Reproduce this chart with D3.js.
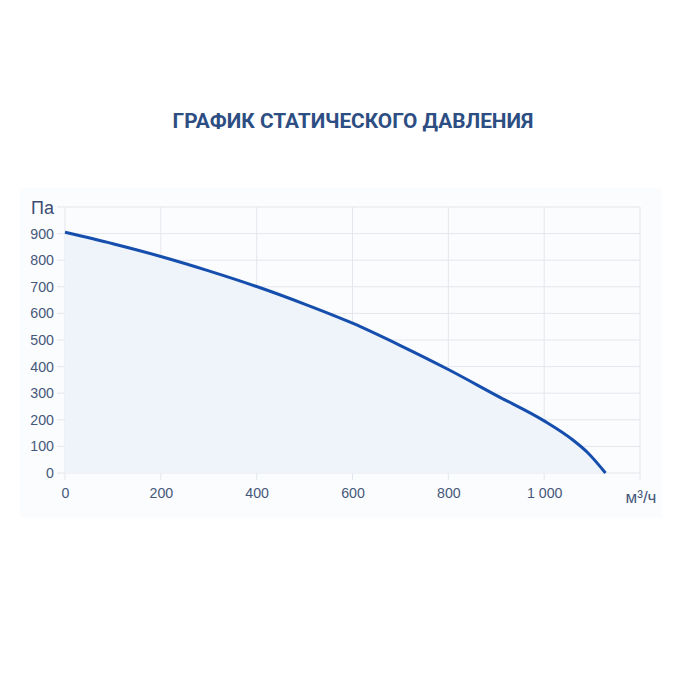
<!DOCTYPE html>
<html><head><meta charset="utf-8">
<script src="https://cdn.jsdelivr.net/npm/d3@7"></script>
<style>body{margin:0;background:#fff;}svg{display:block;}</style>
</head><body>
<svg id="c" width="700" height="700"></svg>
<script>
const title = "ГРАФИК СТАТИЧЕСКОГО ДАВЛЕНИЯ";
const yUnit = "Па";
const xUnit = "м³/ч";
const flow = [0, 100, 200, 300, 400, 500, 600, 700, 800, 900, 1000, 1060, 1090, 1128];
const pressure = [905, 862, 814, 760, 701, 635, 563, 479, 389, 292, 196, 124, 78, 0];
const xTicks = [0, 200, 400, 600, 800, 1000];
const yTicks = [0, 100, 200, 300, 400, 500, 600, 700, 800, 900];

const svg = d3.select("#c");
const m = {l: 65, r: 60, t: 207, b: 227};
const W = 700, H = 700;
const x = d3.scaleLinear().domain([0, 1200]).range([m.l, W - m.r]);
const y = d3.scaleLinear().domain([0, 1000]).range([H - m.b, m.t]);

svg.append("rect").attr("x", 20).attr("y", 188).attr("width", 642).attr("height", 330).attr("fill", "#fbfcfe");

svg.append("text").attr("x", 353).attr("y", 128).attr("text-anchor", "middle")
  .attr("font-family", "Roboto, 'Open Sans', sans-serif").attr("font-weight", 700)
  .attr("font-size", 20.8).attr("fill", "#2d4e82").text(title);

const grid = svg.append("g");
grid.selectAll("line.h").data(d3.range(0, 1001, 100)).join("line")
  .attr("x1", m.l - 8).attr("x2", x(1200)).attr("y1", d => y(d)).attr("y2", d => y(d))
  .attr("stroke", "#e3e6ec").attr("stroke-width", 1);
grid.selectAll("line.v").data(d3.range(0, 1201, 200)).join("line")
  .attr("y1", y(1000)).attr("y2", y(0) + 7).attr("x1", d => x(d)).attr("x2", d => x(d))
  .attr("stroke", "#e3e6ec").attr("stroke-width", 1);

const data = flow.map((f, i) => ({f, p: pressure[i]}));
svg.append("path").datum(data)
  .attr("d", d3.area().x(d => x(d.f)).y0(y(0)).y1(d => y(d.p)).curve(d3.curveMonotoneX))
  .attr("fill", "#eff3fa");

const yAxis = d3.axisLeft(y).tickValues(yTicks).tickSize(0).tickPadding(11);
const gy = svg.append("g").attr("transform", `translate(${m.l},0)`).call(yAxis);
const xAxis = d3.axisBottom(x).tickValues(xTicks).tickSize(0).tickPadding(15)
  .tickFormat(d => d >= 1000 ? d3.format(",")(d).replace(",", " ") : d);
const gx = svg.append("g").attr("transform", `translate(0,${y(0)})`).call(xAxis);
[gx, gy].forEach(g => {
  g.select(".domain").remove();
  g.selectAll("text").attr("font-family", "Arial, 'Liberation Sans', sans-serif")
    .attr("font-size", 14.2).attr("fill", "#46587a");
});

svg.append("path").datum(data)
  .attr("d", d3.line().x(d => x(d.f)).y(d => y(d.p)).curve(d3.curveMonotoneX))
  .attr("fill", "none").attr("stroke", "#154ead").attr("stroke-width", 3);

svg.append("text").attr("x", 54).attr("y", 214).attr("text-anchor", "end")
  .attr("font-family", "Arial, 'Liberation Sans', sans-serif").attr("font-size", 18)
  .attr("fill", "#3b4e72").text(yUnit);
svg.append("text").attr("x", 641).attr("y", 503).attr("text-anchor", "middle")
  .attr("font-family", "Arial, 'Liberation Sans', sans-serif").attr("font-size", 17)
  .attr("fill", "#46587a").text(xUnit);
</script>
</body></html>
